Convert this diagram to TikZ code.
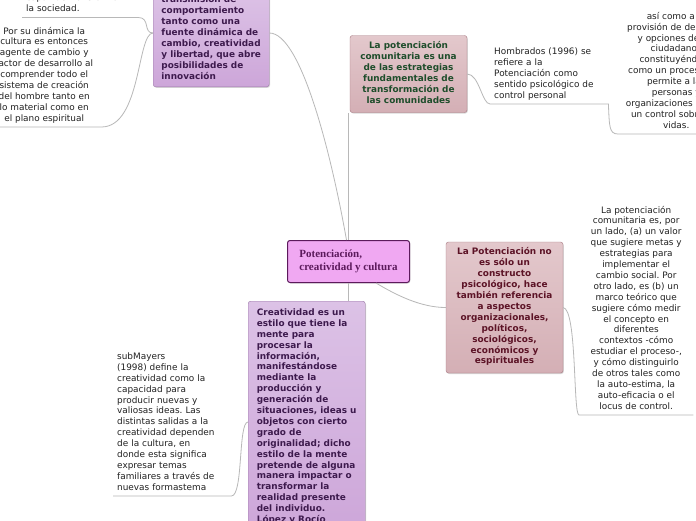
\documentclass[tikz,border=0pt]{standalone}
\usepackage{fontspec}
\usetikzlibrary{calc,shadows}

\newfontfamily\mapsans{DejaVu Sans}
\newfontfamily\mapserif{Liberation Serif}
\newcommand\notefont{\mapsans\fontsize{8.9}{10.9}\selectfont}
\newcommand\boxfont{\mapsans\bfseries\fontsize{8.9}{10.9}\selectfont}
\newcommand\hubfont{\mapserif\bfseries\fontsize{11}{12.5}\selectfont}
\frenchspacing

\definecolor{linkgray}{HTML}{B8B8B8}
\definecolor{notetext}{HTML}{222222}
\definecolor{hubfill}{HTML}{F0A8F2}
\definecolor{hubline}{HTML}{5C1A5C}
\definecolor{lilatop}{HTML}{DCC2E6}
\definecolor{lilabot}{HTML}{CDA6D9}
\definecolor{lilaline}{HTML}{9C7AA8}
\definecolor{lilatext}{HTML}{3D1A4D}
\definecolor{rosetop}{HTML}{E3C8CC}
\definecolor{rosebot}{HTML}{D4AFB5}
\definecolor{roseline}{HTML}{A87A82}
\definecolor{greentext}{HTML}{1E4D2B}
\definecolor{wine}{HTML}{5C1326}

\begin{document}
\begin{tikzpicture}[x=1pt, y=-1pt,
    link/.style={draw=linkgray, line width=0.8pt},
    note/.style={font=\notefont, text=notetext, inner xsep=4pt, inner ysep=2.3pt,
        execute at begin node=\strut, execute at end node=\strut},
    hub/.style={draw=hubline, fill=hubfill, line width=1pt, rounded corners=2.5pt,
        font=\hubfont, text=hubline, align=left, inner xsep=0pt,
        minimum width=122pt, minimum height=42pt,
        drop shadow={shadow xshift=0.8pt, shadow yshift=-1pt, opacity=0.3}},
    lilabox/.style={draw=lilaline, top color=lilatop, bottom color=lilabot,
        rounded corners=2.5pt, font=\boxfont, text=lilatext, align=left, inner xsep=0pt,
        execute at begin node=\strut, execute at end node=\strut,
        drop shadow={shadow xshift=0.8pt, shadow yshift=-1pt, opacity=0.3}},
    rosebox/.style={draw=roseline, top color=rosetop, bottom color=rosebot,
        rounded corners=2.5pt, font=\boxfont, align=center, inner xsep=0pt,
        execute at begin node=\strut, execute at end node=\strut,
        drop shadow={shadow xshift=0.8pt, shadow yshift=-1pt, opacity=0.3}}]

    \useasboundingbox (0,0) rectangle (696,520);
    \fill[white] (0,0) rectangle (696,520);
    \clip (0,0) rectangle (696,520);

    % main idea and branches
    \node[hub, anchor=north west] (hub) at (287,240)
        {Potenciación,\\creatividad y cultura};

    \node[lilabox, anchor=south west, minimum width=116pt, inner ysep=4.3pt] (top1) at (153,87)
        {transmisión de\\comportamiento\\tanto como una\\fuente dinámica de\\cambio, creatividad\\y libertad, que abre\\posibilidades de\\innovación};

    \node[rosebox, text=greentext, minimum width=117pt, minimum height=77pt] (pink1) at (408.5,74)
        {La potenciación\\comunitaria es una\\de las estrategias\\fundamentales de\\transformación de\\las comunidades};

    \node[rosebox, text=wine, minimum width=117pt, minimum height=131pt] (pink2) at (504.5,307.5)
        {La Potenciación no\\es sólo un\\constructo\\psicológico, hace\\también referencia\\a aspectos\\organizacionales,\\políticos,\\sociológicos,\\económicos y\\espirituales};

    \node[lilabox, anchor=north west, minimum width=117pt, inner ysep=7.5pt] (lila2) at (248,301)
        {Creatividad es un\\estilo que tiene la\\mente para\\procesar la\\información,\\manifestándose\\mediante la\\producción y\\generación de\\situaciones, ideas u\\objetos con cierto\\grado de\\originalidad; dicho\\estilo de la mente\\pretende de alguna\\manera impactar o\\transformar la\\realidad presente\\del individuo.\\López y Rocío};

    % notes
    \node[note, anchor=south west, text width=108pt, align=left] (noteA) at (22,17.5)
        {capaz de transformar\\la sociedad.};
    \node[note, anchor=south west, text width=106pt, align=flush center] (noteB) at (-13,127)
        {Por su dinámica la\\cultura es entonces\\agente de cambio y\\factor de desarrollo al\\comprender todo el\\sistema de creación\\del hombre tanto en\\lo material como en\\el plano espiritual};
    \node[note, anchor=south west, text width=110pt, align=left] (noteH) at (490,104)
        {Hombrados (1996) se\\refiere a la\\Potenciación como\\sentido psicológico de\\control personal};
    \node[note, anchor=south west, text width=108pt, align=flush center] (noteR1) at (618,134)
        {así como a la\\provisión de derechos\\y opciones de los\\ciudadanos\\constituyéndose\\como un proceso que\\permite a las\\personas y\\organizaciones ejercer\\un control sobre sus\\vidas.};
    \node[note, anchor=south west, text width=106pt, align=flush center] (noteR2) at (579,415)
        {La potenciación\\comunitaria es, por\\un lado, (a) un valor\\que sugiere metas y\\estrategias para\\implementar el\\cambio social. Por\\otro lado, es (b) un\\marco teórico que\\sugiere cómo medir\\el concepto en\\diferentes\\contextos -cómo\\estudiar el proceso-,\\y cómo distinguirlo\\de otros tales como\\la auto-estima, la\\auto-eficacia o el\\locus de control.};
    \node[note, anchor=south west, text width=110pt, align=left] (noteS) at (113,496)
        {subMayers\\(1998) define la\\creatividad como la\\capacidad para\\producir nuevas y\\valiosas ideas. Las\\distintas salidas a la\\creatividad dependen\\de la cultura, en\\donde esta significa\\expresar temas\\familiares a través de\\nuevas formastema};

    % connectors
    \draw[link] ($(top1.south east)+(0,-54)$)
        .. controls +(31,0) and +(-16,-90) .. ($(hub.north)+(-2,0)$);
    \draw[link] (hub.north) -- (hub.north |- pink1.south);
    \draw[link] (hub.south) -- (hub.south |- lila2.north);
    \draw[link] ($(hub.south east)+(-34,0)$)
        .. controls +(20,12) and +(-25,0) .. (pink2.west);

    \draw[link] (noteA.south west) -- (noteA.south east)
        .. controls +(12,0) and +(-10,0) .. ($(top1.south west)+(0,-54)$);
    \draw[link] (noteB.south west) -- (noteB.south east)
        .. controls +(40,0) and +(-16,0) .. ($(top1.south west)+(0,-54)$);

    \draw[link] (pink1.east) .. controls +(12,0) and +(-8,0) .. (noteH.south west)
        -- (noteH.south east)
        .. controls +(1,22) and +(-9,0) .. (noteR1.south west) -- (noteR1.south east);

    \draw[link] (pink2.east) .. controls +(14,2) and +(-6,0) .. (noteR2.south west)
        -- (noteR2.south east);

    \draw[link] (noteS.south west) -- (noteS.south east)
        .. controls +(12,0) and +(-10,0) .. ($(lila2.north west)+(0,121)$);
\end{tikzpicture}
\end{document}
